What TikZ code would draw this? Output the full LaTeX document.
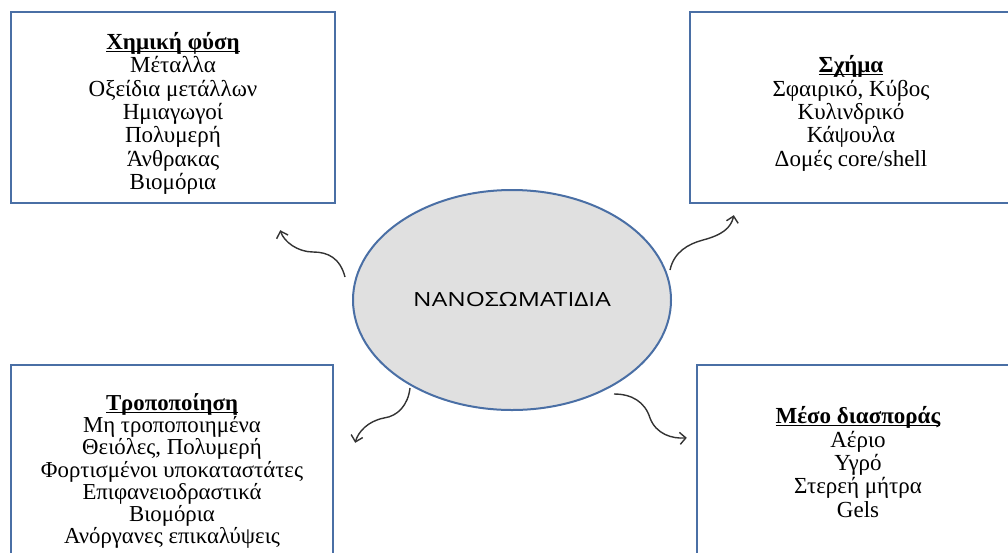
\documentclass[tikz,border=0pt]{standalone}
\usepackage{fontspec}
\setmainfont{Liberation Serif}
\newfontfamily\opensans{Open Sans}
\usepackage{graphicx}
\usepackage{tikz}
\usetikzlibrary{arrows.meta,positioning,calc,shapes.geometric}
\definecolor{cA}{HTML}{4A6FA5}
\definecolor{cB}{HTML}{E0E0E0}
\definecolor{cC}{HTML}{333333}
% heading line: bold and underlined
\newcommand{\hd}[1]{\setbox0=\hbox{\textbf{#1}}%
  \rlap{\rule[-2.5pt]{\wd0}{1.1pt}}\box0}
\newcommand{\tall}{\rule{0pt}{29pt}}
\newcommand{\boxfont}{\fontsize{23}{23.3}\selectfont\lineskiplimit=-50pt\relax}
\newcommand{\modfont}{\fontsize{22.8}{22.2}\selectfont\lineskiplimit=-50pt\relax}
\tikzset{
  box/.style={draw=cA,line width=2.4pt,fill=white,inner sep=0pt,align=center,
              font=\boxfont},
  core/.style={ellipse,draw=cA,line width=2pt,fill=cB,inner sep=0pt,
              minimum width=318pt,minimum height=220pt,
              font=\opensans\fontsize{19.5}{22}\selectfont},
  maparrow/.style={-{Straight Barb[length=6pt,width=12pt]},line width=1.4pt,cC},
}
\begin{document}
\begin{tikzpicture}[x=1pt,y=-1pt]
  \useasboundingbox (0,0) rectangle (1008,552);
  \clip (0,0) rectangle (1008,552);
  \node[box,minimum width=324pt,minimum height=191pt](chem) at (173,107.5)
    {\tall\hd{Χημική φύση}\\Μέταλλα\\Οξείδια μετάλλων\\Ημιαγωγοί\\Πολυμερή\\Άνθρακας\\Βιομόρια};
  \node[box,minimum width=322pt,minimum height=191pt](morph) at (851,107.5)
    {\tall\hd{Σχήμα}\\Σφαιρικό, Κύβος\\Κυλινδρικό\\Κάψουλα\\Δομές core/shell};
  \node[box,minimum width=322pt,minimum height=212pt,font=\modfont](modif) at (172,471)
    {\hd{Τροποποίηση}\\Μη τροποποιημένα\\Θειόλες, Πολυμερή\\Φορτισμένοι υποκαταστάτες\\Επιφανειοδραστικά\\Βιομόρια\\Ανόργανες επικαλύψεις};
  \node[box,minimum width=322pt,minimum height=194pt](medium) at (858,462)
    {\hd{Μέσο διασποράς}\\Αέριο\\Υγρό\\Στερεή μήτρα\\Gels};
  \node[core](nano) at (512,300){\scalebox{1.26}[1]{ΝΑΝΟΣΩΜΑΤΙΔΙΑ}};
  % free ends of the curved arrows
  \coordinate (s1) at ($(nano)+(-167,-23)$);
  \coordinate (e1) at ($(chem.south east)+(-56,26)$);
  \coordinate (s2) at ($(nano)+(158,-30)$);
  \coordinate (e2) at ($(morph.south west)+(45,11)$);
  \coordinate (s3) at ($(nano)+(-102,88)$);
  \coordinate (e3) at ($(modif.north east)+(21,79)$);
  \coordinate (s4) at ($(nano)+(102,94)$);
  \coordinate (e4) at ($(medium.north west)+(-9,74)$);
  \draw[maparrow] (s1) .. controls (340,258) and (328,252) .. (313,252)
                       .. controls (298,252) and (284,242) .. (e1);
  \draw[maparrow] (s2) .. controls (674,252) and (688,244) .. (703,240)
                       .. controls (722,235) and (731,228) .. (e2);
  \draw[maparrow] (s3) .. controls (408,405) and (398,416) .. (384,418)
                       .. controls (368,421) and (358,432) .. (e3);
  \draw[maparrow] (s4) .. controls (632,394) and (645,402) .. (650,418)
                       .. controls (656,434) and (672,439) .. (e4);
\end{tikzpicture}
\end{document}
